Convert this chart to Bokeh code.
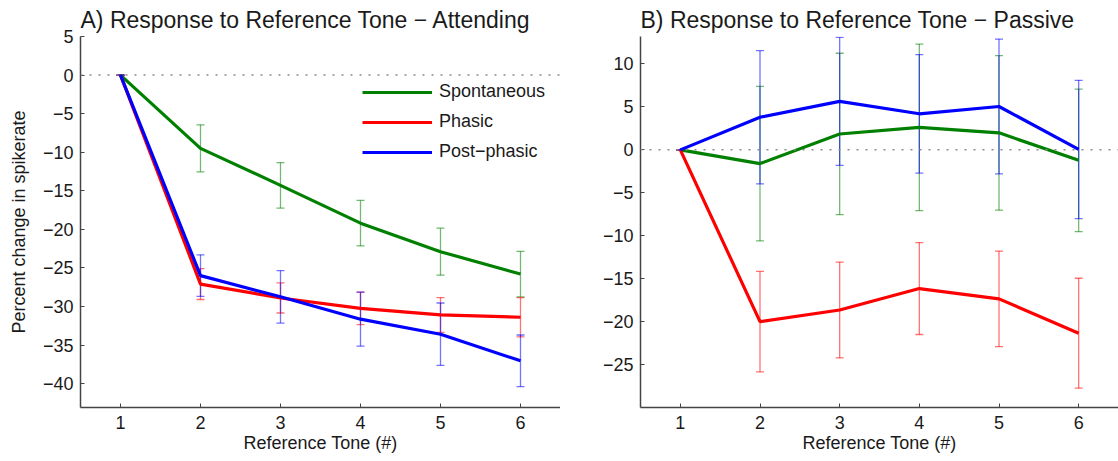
from bokeh.plotting import figure
from bokeh.layouts import row
from bokeh.models import (ColumnDataSource, Whisker, TeeHead, Span, Legend, LegendItem,
                          FixedTicker, Range1d)
from bokeh.embed import file_html
from bokeh.resources import INLINE

# ---- data ----
tones = [1, 2, 3, 4, 5, 6]

att_spont = [0, -9.5, -14.3, -19.2, -22.9, -25.8]
att_spont_err = [0, 3.05, 2.95, 2.95, 3.05, 2.95]
att_phasic = [0, -27.1, -28.9, -30.25, -31.1, -31.4]
att_phasic_err = [0, 2.0, 1.95, 2.1, 2.25, 2.55]
att_post = [0, -26.0, -28.75, -31.65, -33.6, -37.05]
att_post_err = [0, 2.7, 3.4, 3.5, 4.05, 3.35]

pas_spont = [0, -1.6, 1.85, 2.62, 1.98, -1.22]
pas_spont_err = [0, 9.0, 9.4, 9.7, 9.0, 8.3]
pas_phasic = [0, -20.0, -18.65, -16.15, -17.35, -21.35]
pas_phasic_err = [0, 5.85, 5.58, 5.35, 5.57, 6.4]
pas_post = [0, 3.8, 5.65, 4.2, 5.05, 0.05]
pas_post_err = [0, 7.75, 7.45, 6.9, 7.85, 8.05]

series_names = ["Spontaneous", "Phasic", "Post\u2212phasic"]
series_colors = ["#008000", "#ff0000", "#0000ff"]

att_yticks = [5, 0, -5, -10, -15, -20, -25, -30, -35, -40]
pas_yticks = [10, 5, 0, -5, -10, -15, -20, -25]

FONT = "Liberation Sans"
TXT = "#1a1a1a"


def fmt(v):
    return ("\u2212" + str(abs(v))) if v < 0 else str(v)


def make_panel(title, width, yrange, yticks, series, ylabel, legend):
    p = figure(width=width, height=461, output_backend="svg", toolbar_location=None,
               x_range=Range1d(0.5, 6.5), y_range=Range1d(*yrange),
               min_border_left=80, min_border_right=0, min_border_top=36,
               min_border_bottom=54)
    p.outline_line_color = None
    p.xgrid.visible = False
    p.ygrid.visible = False
    p.background_fill_color = "white"
    p.border_fill_color = "white"

    p.title.text = title
    p.title.text_font = FONT
    p.title.text_font_size = "23px"
    p.title.text_font_style = "normal"
    p.title.text_color = TXT
    p.title.align = "left"
    p.title.offset = 0
    p.title.standoff = 7

    for ax in (p.xaxis[0], p.yaxis[0]):
        ax.axis_line_color = "#444444"
        ax.axis_line_width = 1.5
        ax.major_tick_line_color = "#444444"
        ax.major_tick_in = 4
        ax.major_tick_out = 0
        ax.minor_tick_line_color = None
        ax.major_label_text_font = FONT
        ax.major_label_text_font_size = "18px"
        ax.major_label_text_color = TXT
        ax.axis_label_text_font = FONT
        ax.axis_label_text_font_style = "normal"
        ax.axis_label_text_color = TXT

    p.xaxis.ticker = FixedTicker(ticks=tones)
    p.xaxis.major_label_standoff = 8
    p.xaxis.axis_label = "Reference Tone (#)"
    p.xaxis.axis_label_text_font_size = "18px"
    p.xaxis.axis_label_standoff = 1

    p.yaxis.ticker = FixedTicker(ticks=yticks)
    p.yaxis.major_label_overrides = {v: fmt(v) for v in yticks}
    p.yaxis.major_label_standoff = 7
    if ylabel:
        p.yaxis.axis_label = ylabel
        p.yaxis.axis_label_text_font_size = "18px"
        p.yaxis.axis_label_standoff = 11

    p.add_layout(Span(location=0, dimension="width", line_color="#8a8a8a",
                      line_dash="2 7", line_width=1.5))

    items = []
    for (vals, errs), name, col in zip(series, series_names, series_colors):
        src = ColumnDataSource(dict(x=tones, y=vals,
                                    upper=[v + e for v, e in zip(vals, errs)],
                                    lower=[v - e for v, e in zip(vals, errs)]))
        w = Whisker(source=src, base="x", upper="upper", lower="lower",
                    line_color=col, line_alpha=0.55, line_width=1.3,
                    upper_head=TeeHead(size=8, line_color=col, line_alpha=0.55, line_width=1.3),
                    lower_head=TeeHead(size=8, line_color=col, line_alpha=0.55, line_width=1.3))
        p.add_layout(w)
        r = p.line("x", "y", source=src, line_color=col, line_width=3.2)
        items.append(LegendItem(label=name, renderers=[r]))

    if legend:
        lg = Legend(items=items, location=(282, 245), glyph_width=70, glyph_height=20,
                    label_height=20, spacing=9, padding=0, margin=0,
                    label_standoff=7, border_line_alpha=0, background_fill_alpha=0,
                    label_text_font=FONT, label_text_font_size="18px",
                    label_text_color=TXT)
        p.add_layout(lg, "center")
    return p


pA = make_panel("A) Response to Reference Tone \u2212 Attending", 560, (-43.1, 5), att_yticks,
                [(att_spont, att_spont_err), (att_phasic, att_phasic_err), (att_post, att_post_err)],
                "Percent change in spikerate", True)
pB = make_panel("B) Response to Reference Tone \u2212 Passive", 558, (-30, 13.2), pas_yticks,
                [(pas_spont, pas_spont_err), (pas_phasic, pas_phasic_err), (pas_post, pas_post_err)],
                None, False)

layout = row(pA, pB, spacing=0)
open("out.html", "w").write(file_html(layout, INLINE))
